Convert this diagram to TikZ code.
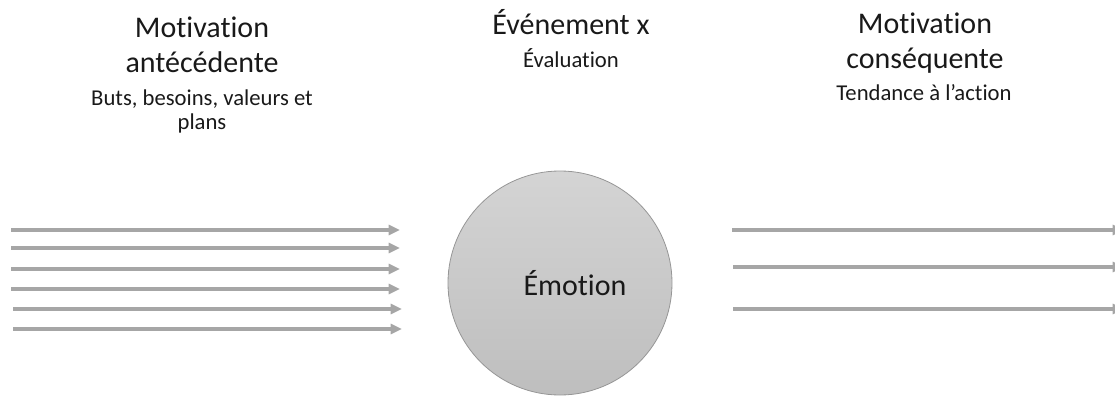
\documentclass[tikz,border=0pt]{standalone}
\usepackage{fontspec}
\setmainfont[Ligatures=NoCommon]{Carlito}
\usetikzlibrary{positioning, arrows.meta, shapes.geometric}
\definecolor{arrow-gray}{RGB}{166,166,166}
\definecolor{circ-top}{RGB}{212,212,212}
\definecolor{circ-bot}{RGB}{190,190,190}
\definecolor{circ-edge}{RGB}{150,150,150}
\definecolor{txt-black}{RGB}{25,25,25}

\begin{document}
\begin{tikzpicture}[x=0.75pt, y=-0.75pt]
	\tikzset{title/.style={align=center, inner sep=0, anchor=base, text=txt-black, font=\fontsize{22.5}{26.25}\selectfont}}
	\tikzset{sub/.style={align=center, inner sep=0, anchor=base, text=txt-black, font=\fontsize{17}{18}\selectfont}}
	\tikzset{arr/.style={-{Triangle[length=8.5pt, width=7.5pt]}, line width=2.4pt, arrow-gray}}
	\useasboundingbox (0,0) rectangle (1115,396);
	
	% titles (base = last line)
	\node[title] (antec) at (202,72) {Motivation\\antécédente};
	\node[sub] (besoins) at (202,129) {Buts, besoins, valeurs et\\plans};
	\node[title] (event) at (571,35) {Événement x};
	\node[sub] (eval) at (571,67) {Évaluation};
	\node[title] (conseq) at (925,68) {Motivation\\conséquente};
	\node[sub] (tendance) at (924,100) {Tendance à l’action};
	
	% emotion
	\node[circle, draw=circ-edge, line width=0.6pt, top color=circ-top, bottom color=circ-bot, minimum size=168pt] (emo) at (560,283) {};
	\node[title, anchor=center, right=0pt of emo.center, anchor=center, xshift=15*0.75pt] (emotext) {Émotion};
	
	% arrows in
	\coordinate (in1a) at (11,230); \coordinate (in1b) at (400,230);
	\coordinate (in2a) at (11,248); \coordinate (in2b) at (400,248);
	\coordinate (in3a) at (11,269); \coordinate (in3b) at (400,269);
	\coordinate (in4a) at (11,289); \coordinate (in4b) at (400,289);
	\coordinate (in5a) at (13,309); \coordinate (in5b) at (402,309);
	\coordinate (in6a) at (13,329); \coordinate (in6b) at (402,329);
	\draw[arr] (in1a) -- (in1b);
	\draw[arr] (in2a) -- (in2b);
	\draw[arr] (in3a) -- (in3b);
	\draw[arr] (in4a) -- (in4b);
	\draw[arr] (in5a) -- (in5b);
	\draw[arr] (in6a) -- (in6b);
	
	% arrows out
	\coordinate (out1a) at (732,230); \coordinate (out1b) at (1124,230);
	\coordinate (out2a) at (733,267); \coordinate (out2b) at (1124,267);
	\coordinate (out3a) at (733,309); \coordinate (out3b) at (1124,309);
	\draw[arr] (out1a) -- (out1b);
	\draw[arr] (out2a) -- (out2b);
	\draw[arr] (out3a) -- (out3b);
\end{tikzpicture}
\end{document}
